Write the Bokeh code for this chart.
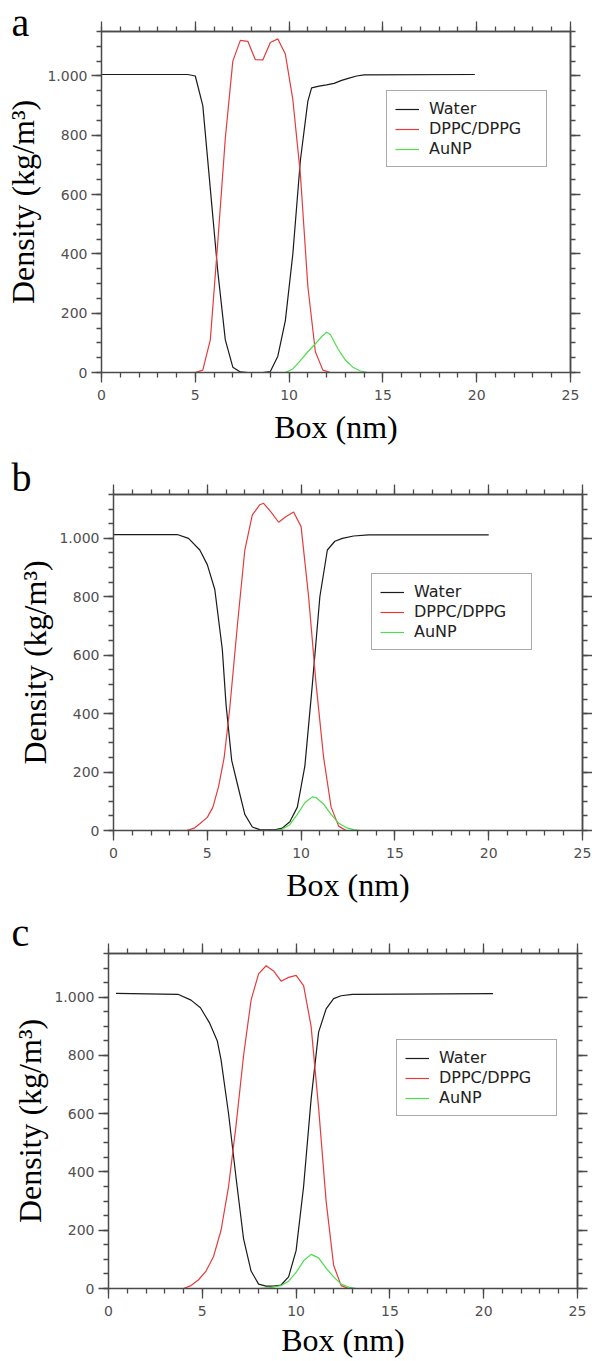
from bokeh.plotting import figure
from bokeh.models import LinearAxis, FixedTicker, Range1d, Legend, LegendItem
from bokeh.core.properties import value
from bokeh.layouts import column
from bokeh.embed import file_html
from bokeh.resources import INLINE

# ---------------- data ----------------
# panel a
a_water_x = [0, 4.6, 5.0, 5.4, 5.8, 6.2, 6.6, 7.0, 7.4, 7.8, 8.6, 9.0, 9.4, 9.8, 10.2, 10.6, 11.0, 11.2, 11.6, 12.0, 12.4, 12.8, 13.2, 13.6, 14.0, 19.9]
a_water_y = [1005, 1005, 1000, 900, 620, 340, 110, 18, 2, 0, 0, 3, 55, 175, 400, 715, 915, 960, 966, 970, 975, 985, 993, 1000, 1004, 1005]
a_lipid_x = [0, 5.0, 5.4, 5.8, 6.2, 6.6, 7.0, 7.4, 7.8, 8.2, 8.6, 9.0, 9.4, 9.8, 10.2, 10.6, 11.0, 11.4, 11.8, 12.2, 19.9]
a_lipid_y = [0, 0, 8, 110, 440, 790, 1050, 1120, 1117, 1055, 1054, 1113, 1125, 1074, 920, 670, 290, 70, 8, 0, 0]
a_aunp_x = [0, 9.8, 10.2, 10.6, 11.0, 11.4, 11.8, 12.0, 12.2, 12.6, 13.0, 13.4, 13.8, 14.2, 19.9]
a_aunp_y = [0, 0, 12, 40, 70, 97, 125, 136, 128, 80, 42, 18, 5, 0, 0]

# panel b
b_water_x = [0, 3.4, 4.0, 4.6, 5.0, 5.4, 5.8, 6.0, 6.3, 6.6, 7.0, 7.4, 7.8, 8.6, 9.0, 9.4, 9.8, 10.2, 10.6, 11.0, 11.4, 11.8, 12.2, 12.8, 13.6, 20.0]
b_water_y = [1013, 1013, 1000, 960, 910, 825, 620, 430, 240, 160, 55, 12, 3, 2, 8, 30, 80, 220, 500, 800, 960, 990, 1000, 1008, 1012, 1012]
b_lipid_x = [0, 3.9, 4.3, 4.6, 5.0, 5.3, 5.6, 5.9, 6.2, 6.6, 7.0, 7.4, 7.8, 8.0, 8.4, 8.8, 9.2, 9.6, 10.0, 10.4, 10.8, 11.2, 11.6, 12.0, 12.4, 20.0]
b_lipid_y = [0, 0, 8, 23, 45, 80, 150, 250, 420, 700, 960, 1080, 1115, 1120, 1090, 1055, 1075, 1090, 1040, 800, 500, 250, 80, 15, 0, 0]
b_aunp_x = [0, 8.6, 9.0, 9.4, 9.8, 10.2, 10.6, 10.8, 11.2, 11.6, 12.0, 12.4, 12.8, 13.2, 20.0]
b_aunp_y = [0, 0, 5, 20, 55, 95, 115, 113, 90, 55, 25, 10, 3, 0, 0]

# panel c
c_water_x = [0.4, 3.7, 4.4, 4.9, 5.4, 5.8, 6.0, 6.4, 6.8, 7.2, 7.6, 8.0, 8.4, 8.8, 9.2, 9.6, 10.0, 10.4, 10.8, 11.2, 11.6, 12.0, 12.4, 13.0, 20.5]
c_water_y = [1013, 1010, 990, 964, 910, 850, 785, 600, 380, 170, 60, 15, 8, 8, 12, 40, 130, 350, 650, 880, 960, 995, 1005, 1010, 1012]
c_lipid_x = [0.4, 4.0, 4.4, 4.8, 5.2, 5.6, 6.0, 6.4, 6.8, 7.2, 7.6, 8.0, 8.4, 8.8, 9.2, 9.6, 10.0, 10.4, 10.8, 11.2, 11.6, 12.0, 12.4, 12.8, 20.5]
c_lipid_y = [0, 0, 10, 30, 60, 110, 200, 350, 560, 800, 990, 1080, 1108, 1090, 1055, 1068, 1075, 1040, 900, 620, 300, 80, 10, 0, 0]
c_aunp_x = [0.4, 8.0, 8.6, 9.2, 9.6, 10.0, 10.4, 10.8, 11.2, 11.6, 12.0, 12.4, 12.8, 13.2, 20.5]
c_aunp_y = [0, 0, 3, 10, 25, 55, 95, 117, 105, 70, 40, 15, 5, 0, 0]

series_names = ["Water", "DPPC/DPPG", "AuNP"]
series_colors = ["#1a1a1a", "#e23c3c", "#4cdc4c"]
panel_letters = ["a", "b", "c"]

x_major = [0, 5, 10, 15, 20, 25]
x_minor = list(range(0, 26))
y_major = [0, 200, 400, 600, 800, 1000]
y_minor = list(range(0, 1151, 50))
y_tick_labels = {0: "0", 200: "200", 400: "400", 600: "600", 800: "800", 1000: "1.000"}
x_title = "Box (nm)"
y_title = "Density (kg/m\u00b3)"

# ---------------- styling ----------------
AX = "#4a4a4a"
TICK_FONT = "DejaVu Sans"
SERIF = "Liberation Serif"
W = 592
X_MAX, Y_MAX = 25, 1150


def base_axis_style(ax):
    ax.axis_line_color = AX
    ax.axis_line_width = 1.5
    ax.major_tick_line_color = AX
    ax.minor_tick_line_color = AX
    ax.major_tick_line_width = 1.3
    ax.minor_tick_line_width = 1.3


def labelled_axis(ax, ticker, standoff, title, title_standoff, overrides=None):
    base_axis_style(ax)
    ax.ticker = ticker
    ax.major_tick_in = 0
    ax.minor_tick_in = 0
    ax.major_tick_out = 10
    ax.minor_tick_out = 5
    ax.major_label_standoff = standoff
    ax.major_label_text_font = TICK_FONT
    ax.major_label_text_font_size = "14px"
    ax.major_label_text_color = "#505050"
    if overrides:
        ax.major_label_overrides = overrides
    ax.axis_label = title
    ax.axis_label_text_font = SERIF
    ax.axis_label_text_font_size = "32px"
    ax.axis_label_text_font_style = "normal"
    ax.axis_label_text_color = "black"
    ax.axis_label_standoff = title_standoff


def tick_only_axis(ticks, length):
    # an axis with no labels: ticks given as minor ticks, drawn outward without taking border space
    ax = LinearAxis(ticker=FixedTicker(ticks=[], minor_ticks=ticks))
    base_axis_style(ax)
    ax.major_tick_in = 0
    ax.major_tick_out = 0
    ax.minor_tick_out = 0
    ax.minor_tick_in = -length
    ax.major_label_standoff = 0
    return ax


def make_panel(idx, data, geo):
    (wx, wy), (lx, ly), (gx, gy) = data
    left, top, fw, fh, height = geo["left"], geo["top"], geo["fw"], geo["fh"], geo["height"]
    p = figure(width=W, height=height, output_backend="svg", toolbar_location=None,
               x_range=Range1d(0, X_MAX), y_range=Range1d(0, Y_MAX),
               min_border_left=left, min_border_top=top,
               min_border_right=W - left - fw, min_border_bottom=height - top - fh)
    p.frame_align = False
    p.toolbar.logo = None
    p.grid.visible = False
    p.outline_line_color = None
    p.background_fill_color = "white"
    p.border_fill_color = "white"

    labelled_axis(p.xaxis[0], FixedTicker(ticks=x_major, minor_ticks=x_minor), 7, x_title, geo["xts"])
    labelled_axis(p.yaxis[0], FixedTicker(ticks=y_major, minor_ticks=y_minor), 4, y_title, geo["yts"],
                  y_tick_labels)
    p.add_layout(tick_only_axis(x_minor, 5), "above")
    p.add_layout(tick_only_axis(x_major, 10), "above")
    p.add_layout(tick_only_axis(y_minor, 5), "right")
    p.add_layout(tick_only_axis(y_major, 10), "right")

    rs = []
    for (xs, ys), col in zip([(wx, wy), (lx, ly), (gx, gy)], series_colors):
        rs.append(p.line(xs, ys, line_color=col, line_width=1.2))

    legend = Legend(items=[LegendItem(label=n, renderers=[r]) for n, r in zip(series_names, rs)],
                    location=geo["legend"], padding=8, spacing=1,
                    label_height=18, glyph_height=18, glyph_width=24, label_standoff=10,
                    label_width=109,
                    label_text_font=TICK_FONT, label_text_font_size="16px",
                    label_text_color="#222222",
                    border_line_color="#555555", border_line_width=1.5,
                    background_fill_color="white", background_fill_alpha=1.0)
    p.add_layout(legend)

    # panel letter, drawn at overlay level so that it may sit in the margin
    lx_px, ly_px = geo["letter"]
    p.text(x=[lx_px * X_MAX / fw], y=[ly_px * Y_MAX / fh], text=[panel_letters[idx]],
           text_font=value(SERIF), text_font_size=value("40px"), text_color="black",
           text_align="left", text_baseline="alphabetic", level="overlay")
    return p


# geometry in px; letter offset relative to the frame's bottom-left corner
geos = [
    dict(left=101, top=31, fw=469, fh=341, height=450, legend=(285, 205),
         letter=(-90, 350), xts=6, yts=3),
    dict(left=113, top=44, fw=469, fh=336, height=460, legend=(258, 180),
         letter=(-102, 353), xts=6, yts=3),
    dict(left=108, top=43, fw=469, fh=335, height=451, legend=(288, 172),
         letter=(-97, 356), xts=3, yts=3),
]
datas = [
    ((a_water_x, a_water_y), (a_lipid_x, a_lipid_y), (a_aunp_x, a_aunp_y)),
    ((b_water_x, b_water_y), (b_lipid_x, b_lipid_y), (b_aunp_x, b_aunp_y)),
    ((c_water_x, c_water_y), (c_lipid_x, c_lipid_y), (c_aunp_x, c_aunp_y)),
]

panels = [make_panel(i, d, g) for i, (d, g) in enumerate(zip(datas, geos))]
layout = column(*panels, spacing=0)
open("out.html", "w").write(file_html(layout, INLINE))
